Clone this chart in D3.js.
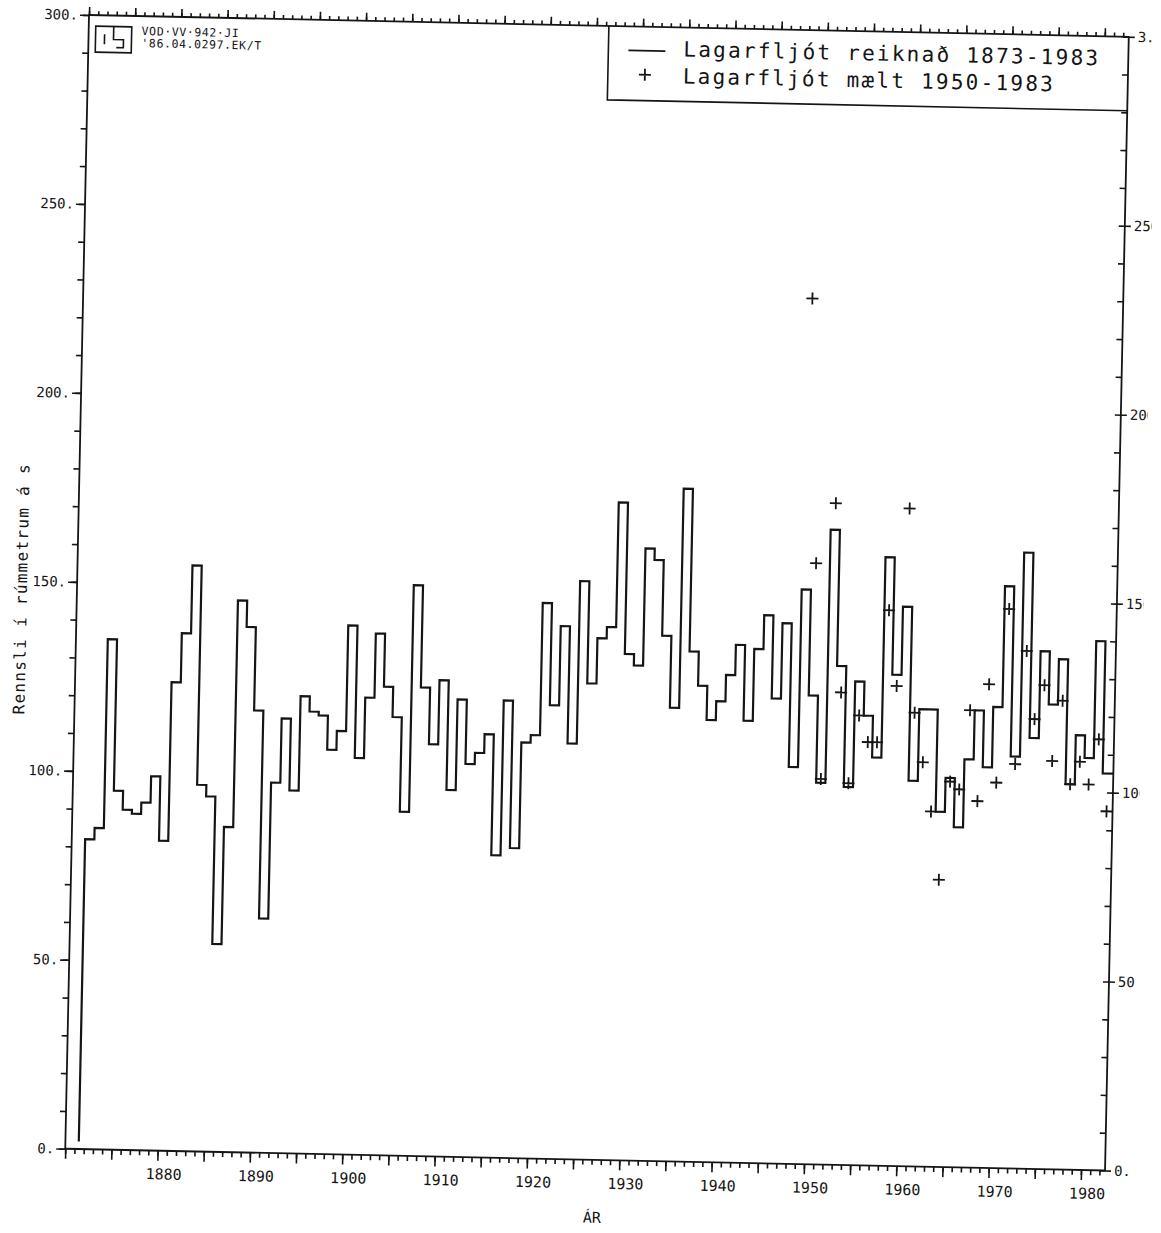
<!DOCTYPE html>
<html>
<head>
<meta charset="utf-8">
<script src="https://cdn.jsdelivr.net/npm/d3@7"></script>
<style>
  body { margin: 0; background: #fff; }
  svg text { font-family: "DejaVu Sans Mono", monospace; fill: #151515; }
</style>
</head>
<body>
<svg id="chart" width="1161" height="1233"></svg>
<script>
// computed yearly flow 1873-1983 (m3/s)
const years = d3.range(1873, 1984);
const reiknad = [
  82, 85, 135, 95, 90, 89, 92, 99, 82, 124,
  137, 155, 97, 94, 55, 86, 146, 139, 117, 62,
  98, 115, 96, 121, 117, 116, 107, 112, 140, 105,
  121, 138, 124, 116, 91, 151, 124, 109, 126, 97,
  121, 104, 107, 112, 80, 121, 82, 110, 112, 147,
  120, 141, 110, 153, 126, 138, 141, 174, 134, 131,
  162, 159, 139, 120, 178, 135, 126, 117, 122, 129,
  137, 117, 136, 145, 123, 143, 105, 152, 124, 101,
  168, 132, 100, 128, 119, 108, 161, 130, 148, 102,
  121, 121, 94, 103, 90, 108, 121, 106, 122, 154,
  109, 163, 114, 137, 123, 135, 102, 115, 109, 140,
  105
];
const stepStart = 2;   // the pen starts just above zero

// measured yearly flow 1950-1983
const maeltYears = d3.range(1950, 1984);
const maelt = [
  229, 159, 102, 175, 125, 101, 119, 112, 112, 147,
  127, 174, 120, 107, 94, 76, 102, 100, 121, 97,
  128, 102, 148, 107, 137, 119, 128, 108, 124, 102,
  108, 102, 114, 95
];

const yTicks = [0, 50, 100, 150, 200, 250, 300];
const yTickLabels = ["0.", "50.", "100.", "150.", "200.", "250.", "300."];
const rightTickLabels = ["0.", "50.", "100.", "150.", "200.", "250.", "3."];
const xTickLabels = [1880, 1890, 1900, 1910, 1920, 1930, 1940, 1950, 1960, 1970, 1980];
const legendLabels = ["Lagarfljót reiknað 1873-1983", "Lagarfljót mælt 1950-1983"];
const stampLines = ["VOD·VV·942·JI", "'86.04.0297.EK/T"];

const W = 1040, H = 1134;
const shift = 1.55; // the plotter drew each year's step this far left of its tick

const svg = d3.select("#chart");
// the scanned sheet is slightly turned
const g = svg.append("g").attr("transform", "translate(89,15) rotate(1.2)");

const x = d3.scaleLinear().domain([1870, 1982.6]).range([0, W]);
const y = d3.scaleLinear().domain([0, 300]).range([H, 0]);

const ink = "#151515";

// frame
g.append("rect")
  .attr("width", W).attr("height", H)
  .attr("fill", "none").attr("stroke", ink).attr("stroke-width", 1.8);

let styleAxis = sel => {
  sel.select(".domain").remove();
  sel.selectAll("line").attr("stroke", ink).attr("stroke-width", 1.6);
  sel.selectAll("text").attr("fill", ink);
};

// bottom axis: minor every year, major every 5
g.append("g").attr("transform", `translate(0,${H})`)
  .call(d3.axisBottom(x).tickValues(d3.range(1870, 1983)).tickSize(5).tickFormat(""))
  .call(styleAxis);
g.append("g").attr("transform", `translate(0,${H})`)
  .call(d3.axisBottom(x).tickValues(d3.range(1870, 1983, 5)).tickSize(10).tickPadding(8)
    .tickFormat(d => xTickLabels.includes(d) ? d : ""))
  .call(styleAxis)
  .selectAll("text").attr("dx", 6).style("font-size", "15px");

// top axis
g.append("g")
  .call(d3.axisTop(x).tickValues(d3.range(1870, 1983)).tickSize(4).tickFormat(""))
  .call(styleAxis);
g.append("g")
  .call(d3.axisTop(x).tickValues(d3.range(1870, 1983, 5)).tickSize(8).tickFormat(""))
  .call(styleAxis);

// left axis
g.append("g")
  .call(d3.axisLeft(y).tickValues(d3.range(0, 301, 10)).tickSize(6).tickFormat(""))
  .call(styleAxis);
g.append("g")
  .call(d3.axisLeft(y).tickValues(yTicks).tickSize(9).tickPadding(2)
    .tickFormat((d, i) => yTickLabels[i]))
  .call(styleAxis)
  .selectAll("text").style("font-size", "14px");

// right axis, labels cut by the edge of the sheet
const right = g.append("g").attr("transform", `translate(${W},0)`);
right.append("clipPath").attr("id", "sheet")
  .append("rect").attr("x", -60).attr("y", -50).attr("width", 87).attr("height", H + 100);
right.append("g")
  .call(d3.axisRight(y).tickValues(d3.range(0, 301, 10)).tickSize(-6).tickFormat(""))
  .call(styleAxis);
right.append("g").attr("clip-path", "url(#sheet)")
  .call(d3.axisRight(y).tickValues(yTicks).tickSize(6).tickPadding(3)
    .tickFormat((d, i) => rightTickLabels[i]))
  .call(styleAxis)
  .selectAll("text").style("font-size", "14px");

// axis titles
g.append("text")
  .attr("transform", `translate(-50,575) rotate(-90)`)
  .attr("text-anchor", "middle")
  .style("font-size", "16px")
  .style("letter-spacing", "1.3px")
  .text("Rennsli í rúmmetrum á s");

g.append("text")
  .attr("x", 528).attr("y", H + 63)
  .attr("text-anchor", "middle")
  .style("font-size", "15px")
  .text("ÁR");

// computed series as steps
const stepPts = [[x(years[0] - shift), y(stepStart)]]
  .concat(years.map((yr, i) => [x(yr - shift), y(reiknad[i])]))
  .concat([[W, y(reiknad[reiknad.length - 1])]]);

g.append("path")
  .attr("d", d3.line().curve(d3.curveStepAfter)(stepPts))
  .attr("fill", "none")
  .attr("stroke", ink)
  .attr("stroke-width", 2.2)
  .attr("stroke-linejoin", "miter");

// measured series as crosses
g.selectAll(".cross")
  .data(maeltYears.map((yr, i) => ({ yr, v: maelt[i] })))
  .enter()
  .append("path")
  .attr("class", "cross")
  .attr("transform", d => `translate(${x(d.yr - shift + 0.5)},${y(d.v)})`)
  .attr("d", "M-6,0H6M0,-6V6")
  .attr("stroke", ink)
  .attr("stroke-width", 1.8);

// legend
const lg = g.append("g");
lg.append("path")
  .attr("d", `M520,0V74H${W}`)
  .attr("fill", "none").attr("stroke", ink).attr("stroke-width", 1.6);
lg.append("line")
  .attr("x1", 540).attr("x2", 577).attr("y1", 24).attr("y2", 24)
  .attr("stroke", ink).attr("stroke-width", 1.8);
lg.append("path")
  .attr("transform", "translate(557,48)")
  .attr("d", "M-6,0H6M0,-6V6")
  .attr("stroke", ink).attr("stroke-width", 1.8);
lg.selectAll(".lgtext")
  .data(legendLabels)
  .enter()
  .append("text")
  .attr("class", "lgtext")
  .attr("x", 595)
  .attr("y", (d, i) => 29 + i * 27)
  .style("font-size", "21px")
  .style("letter-spacing", "2.25px")
  .text(d => d);

// stamp box in the top left corner
const st = g.append("g").attr("transform", "translate(7,11)");
st.append("rect").attr("width", 36).attr("height", 26)
  .attr("fill", "none").attr("stroke", ink).attr("stroke-width", 1.6);
st.append("path")
  .attr("d", "M18,0V13H28V21H21M9,8V18")
  .attr("fill", "none").attr("stroke", ink).attr("stroke-width", 1.6);
st.selectAll("text")
  .data(stampLines)
  .enter()
  .append("text")
  .attr("x", 46)
  .attr("y", (d, i) => 8 + i * 12)
  .style("font-size", "11.5px")
  .style("letter-spacing", "0.6px")
  .text(d => d);
</script>
</body>
</html>
